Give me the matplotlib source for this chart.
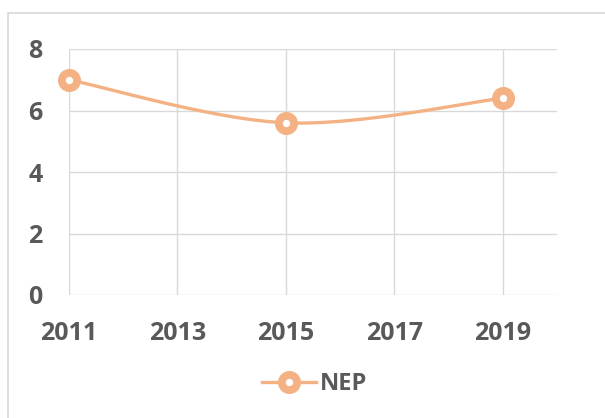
import numpy as np
import matplotlib
matplotlib.use("Agg")
import matplotlib.pyplot as plt
from matplotlib.lines import Line2D
from matplotlib.patches import Rectangle

years = [2011, 2015, 2019]
nep = [7.0, 5.6, 6.4]
xticks = [2011, 2013, 2015, 2017, 2019]
yticks = [0, 2, 4, 6, 8]

ORANGE = "#F4B183"
TEXT = "#595959"
GRID = "#D9D9D9"
FONT = "Open Sans"
FS = 18

def smooth(xs, ys, n=60):
    # Catmull-Rom style bezier smoothing (Excel smoothed line look)
    xs = np.asarray(xs, float); ys = np.asarray(ys, float)
    px = np.concatenate([[xs[0]], xs, [xs[-1]]])
    py = np.concatenate([[ys[0]], ys, [ys[-1]]])
    ox, oy = [], []
    for i in range(1, len(px) - 2):
        p0 = np.array([px[i-1], py[i-1]]); p1 = np.array([px[i], py[i]])
        p2 = np.array([px[i+1], py[i+1]]); p3 = np.array([px[i+2], py[i+2]])
        c1 = p1 + (p2 - p0) / 6.0
        c2 = p2 - (p3 - p1) / 6.0
        t = np.linspace(0, 1, n)[:, None]
        b = ((1-t)**3)*p1 + 3*((1-t)**2)*t*c1 + 3*(1-t)*t**2*c2 + t**3*p2
        ox.extend(b[:, 0]); oy.extend(b[:, 1])
    return np.array(ox), np.array(oy)

fig = plt.figure(figsize=(6.05, 4.18), dpi=100)
ax = fig.add_axes([69/605, 1-295/418, (557-69)/605, (295-49)/418])

# chart border (only top/left visible)
fig.patches.append(Rectangle((8/605, -0.05), 1.0, 1-13/418+0.05, transform=fig.transFigure,
                             fill=False, edgecolor=GRID, linewidth=1.2))

MS, MEW, LW = 11.0, 5.6, 2.4
sx, sy = smooth(years, nep)
ax.plot(sx, sy, color=ORANGE, linewidth=LW, solid_capstyle="round", zorder=3, clip_on=False)
ax.plot(years, nep, linestyle="none", marker="o", markersize=MS,
        markerfacecolor="white", markeredgecolor=ORANGE, markeredgewidth=MEW, zorder=4,
        clip_on=False)

ax.set_xlim(2011, 2020)
ax.set_ylim(0, 8)
ax.set_xticks(xticks)
ax.set_yticks(yticks)
ax.grid(True, color=GRID, linewidth=1.0)
ax.set_axisbelow(True)
for s in ax.spines.values():
    s.set_visible(False)
ax.tick_params(length=0, labelsize=FS, labelcolor=TEXT)
ax.tick_params(axis="x", pad=18.5)
ax.tick_params(axis="y", pad=19)
for lab in ax.get_xticklabels() + ax.get_yticklabels():
    lab.set_fontfamily(FONT); lab.set_fontweight("bold")

handle = Line2D([], [], color=ORANGE, linewidth=LW, marker="o", markersize=MS,
                markerfacecolor="white", markeredgecolor=ORANGE, markeredgewidth=MEW)
fig.legend([handle], ["NEP"], loc="center", bbox_to_anchor=(315/605, 1-384/418),
           frameon=False, handlelength=2.25, handletextpad=0.2,
           prop={"family": FONT, "weight": "bold", "size": 17}, labelcolor=TEXT)

fig.savefig("out.png", dpi=100)
